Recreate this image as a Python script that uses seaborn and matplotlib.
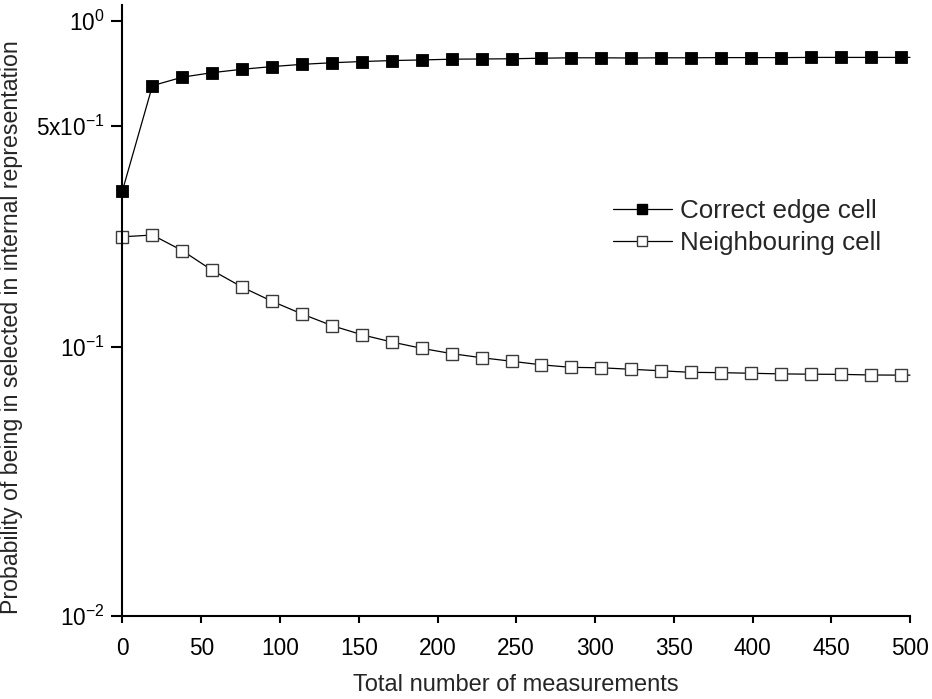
import numpy as np
import pandas as pd
import matplotlib
matplotlib.use("Agg")
import matplotlib.pyplot as plt
from matplotlib.lines import Line2D
from matplotlib.ticker import FixedLocator, NullLocator
import seaborn as sns

# Sampled measurement counts (last entry closes the curve at the axis end)
measurements = [0, 19, 38, 57, 76, 95, 114, 133, 152, 171, 190, 209, 228, 247,
                266, 285, 304, 323, 342, 361, 380, 399, 418, 437, 456, 475, 494, 500]

correct_edge = [0.319, 0.654, 0.692, 0.713, 0.729, 0.742, 0.753, 0.761, 0.767,
                0.772, 0.775, 0.779, 0.780, 0.781, 0.784, 0.786, 0.786, 0.785,
                0.786, 0.786, 0.787, 0.787, 0.787, 0.788, 0.788, 0.788, 0.788, 0.788]

neighbouring = [0.229, 0.232, 0.207, 0.179, 0.158, 0.142, 0.129, 0.118, 0.110,
                0.104, 0.099, 0.095, 0.092, 0.0895, 0.087, 0.0853, 0.085, 0.084,
                0.083, 0.082, 0.0818, 0.0814, 0.081, 0.0808, 0.0807, 0.0803,
                0.0802, 0.0802]

series_labels = ["Correct edge cell", "Neighbouring cell"]

y_ticks = [0.01, 0.1, 0.5, 1.0]
y_tick_labels = [r"$10^{-2}$", r"$10^{-1}$", r"5x10$^{-1}$", r"$10^{0}$"]
x_ticks = [0, 50, 100, 150, 200, 250, 300, 350, 400, 450, 500]

df = pd.DataFrame({"measurements": measurements,
                   "correct": correct_edge,
                   "neighbour": neighbouring})

sns.set_style("ticks")
plt.rcParams["font.family"] = ["Liberation Sans", "DejaVu Sans"]
plt.rcParams["mathtext.fontset"] = "custom"
plt.rcParams["mathtext.rm"] = "Liberation Sans"
plt.rcParams["mathtext.it"] = "Liberation Sans:italic"
plt.rcParams["mathtext.bf"] = "Liberation Sans:bold"

fig = plt.figure(figsize=(9.32, 6.99), dpi=100)
W, H = 932, 699
ax = fig.add_axes([122.5 / W, 1 - 616 / H, (910 - 122.5) / W, (616 - 5) / H])

n_marks = len(measurements) - 1
common = dict(ax=ax, lw=0.9, marker="s", markevery=list(range(n_marks)),
              clip_on=False, legend=False)

sns.lineplot(data=df, x="measurements", y="correct", color="black",
             markersize=8, markerfacecolor="black", markeredgecolor="black",
             markeredgewidth=0.6, **common)
sns.lineplot(data=df, x="measurements", y="neighbour", color="black",
             markersize=8, markerfacecolor="white", markeredgecolor="#3a3a3a",
             markeredgewidth=1.0, **common)

# Compressed-log style probability axis
k = 0.0841
ax.set_yscale("function",
              functions=(lambda v: np.power(np.clip(v, 1e-9, None), k),
                         lambda v: np.power(np.clip(v, 1e-9, None), 1.0 / k)))
ax.set_ylim(0.01, 1.105)
ax.set_xlim(0, 500)
ax.yaxis.set_major_locator(FixedLocator(y_ticks))
ax.set_yticklabels(y_tick_labels)
ax.yaxis.set_minor_locator(NullLocator())
ax.set_xticks(x_ticks)
ax.set_xticklabels([str(t) for t in x_ticks])

sns.despine(ax=ax)
for side in ("left", "bottom"):
    ax.spines[side].set_linewidth(1.5)
    ax.spines[side].set_color("black")
ax.tick_params(axis="y", direction="out", length=8, width=1.5, pad=5,
               labelsize=16.3, colors="black")
ax.tick_params(axis="x", direction="out", length=5, width=1.5, pad=10,
               labelsize=16.3, colors="black")

ax.set_xlabel("Total number of measurements", fontsize=17)
ax.set_ylabel("Probability of being in selected in internal representation",
              fontsize=16.7)
ax.xaxis.set_label_coords(0.5, -(685 - 616) / 611, transform=ax.transAxes)
ax.xaxis.label.set_va("center")
ax.yaxis.set_label_coords(-(122.5 - 12) / 787.5, (616 - 327) / 611)
ax.yaxis.label.set_va("center")

handles = [
    Line2D([], [], color="black", lw=0.9, marker="s", markersize=6.5,
           markerfacecolor="black", markeredgecolor="black"),
    Line2D([], [], color="black", lw=0.9, marker="s", markersize=6.5,
           markerfacecolor="white", markeredgecolor="#3a3a3a", markeredgewidth=1.0),
]
fig.legend(handles, series_labels, loc="upper left",
           bbox_to_anchor=(613 / W, 1 - 199 / H), frameon=False, fontsize=18.7,
           handlelength=2.27, handletextpad=0.3, labelspacing=0.32,
           borderpad=0, borderaxespad=0)

fig.savefig("out.png", dpi=100, facecolor="white")
